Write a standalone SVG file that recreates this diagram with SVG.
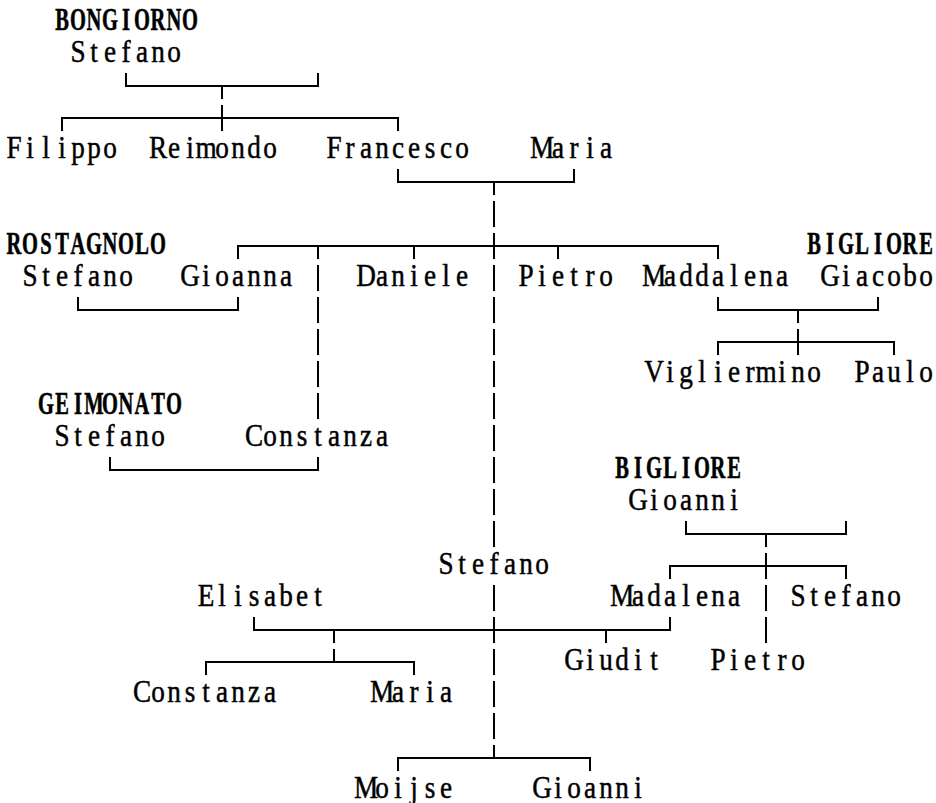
<svg xmlns="http://www.w3.org/2000/svg" width="936" height="803" viewBox="0 0 936 803">
<style>
  text { font-family: "Liberation Serif", "DejaVu Serif", serif; font-size: 32px; fill: #000; stroke: #000; stroke-width: 0.5; text-anchor: middle; }
  .sur { font-weight: bold; stroke-width: 0.6; }
  .c { fill: none; stroke: #000; stroke-width: 2; }
</style>
<rect width="936" height="803" fill="#fff"/>
<g id="connectors">
  <path class="c" d="M126,73V86H318V73 M222,86V99 M222,105V131 M62,131V118H398V131"/>
  <path class="c" d="M398,169V182H574V169 M494,182V195"/>
  <path class="c" d="M494,201V227 M494,233V259 M494,265V291 M494,297V323 M494,329V355 M494,361V387 M494,393V419 M494,425V451 M494,457V483 M494,489V515 M494,521V547"/>
  <path class="c" d="M238,259V246H718V259 M318,246V259 M414,246V259 M558,246V259"/>
  <path class="c" d="M318,265V291 M318,297V323 M318,329V355 M318,361V387 M318,393V419"/>
  <path class="c" d="M78,297V310H238V297"/>
  <path class="c" d="M110,457V470H318V457"/>
  <path class="c" d="M718,297V310H878V297 M798,310V323 M798,329V355 M718,355V342H894V355"/>
  <path class="c" d="M686,521V534H846V521 M766,534V547 M766,553V579 M670,579V566H846V579 M766,585V611 M766,617V643"/>
  <path class="c" d="M494,585V611 M494,617V643 M494,649V675 M494,681V707 M494,713V739 M494,745V758"/>
  <path class="c" d="M254,617V630H670V617 M334,630V643 M606,630V643"/>
  <path class="c" d="M334,649V662 M206,675V662H414V675"/>
  <path class="c" d="M398,771V758H590V771"/>
</g>
<g id="n-bongiorno-stefano"><text class="sur" transform="translate(54,30) scale(0.64,1)" x="12.5 37.5 62.5 87.5 112.5 137.5 162.5 187.5 212.5">BONGIORNO</text><text transform="translate(70,62) scale(0.85,1)" x="9.41 28.24 47.06 65.88 84.71 103.53 122.35">Stefano</text></g>
<g id="n-filippo"><text transform="translate(6,158) scale(0.85,1)" x="9.41 28.24 47.06 65.88 84.71 103.53 122.35">Filippo</text></g>
<g id="n-reimondo"><text transform="translate(150,158) scale(0.85,1)" x="9.41 28.24 47.06 65.88 84.71 103.53 122.35 141.18">Reimondo</text></g>
<g id="n-francesco"><text transform="translate(326,158) scale(0.85,1)" x="9.41 28.24 47.06 65.88 84.71 103.53 122.35 141.18 160">Francesco</text></g>
<g id="n-maria1"><text transform="translate(534,158) scale(0.85,1)" x="9.41 28.24 47.06 65.88 84.71">Maria</text></g>
<g id="n-rostagnolo-stefano"><text class="sur" transform="translate(6,254) scale(0.64,1)" x="12.5 37.5 62.5 87.5 112.5 137.5 162.5 187.5 212.5 237.5">ROSTAGNOLO</text><text transform="translate(22,286) scale(0.85,1)" x="9.41 28.24 47.06 65.88 84.71 103.53 122.35">Stefano</text></g>
<g id="n-gioanna"><text transform="translate(182,286) scale(0.85,1)" x="9.41 28.24 47.06 65.88 84.71 103.53 122.35">Gioanna</text></g>
<g id="n-daniele"><text transform="translate(358,286) scale(0.85,1)" x="9.41 28.24 47.06 65.88 84.71 103.53 122.35">Daniele</text></g>
<g id="n-pietro1"><text transform="translate(518,286) scale(0.85,1)" x="9.41 28.24 47.06 65.88 84.71 103.53">Pietro</text></g>
<g id="n-maddalena"><text transform="translate(646,286) scale(0.85,1)" x="9.41 28.24 47.06 65.88 84.71 103.53 122.35 141.18 160">Maddalena</text></g>
<g id="n-bigliore-giacobo"><text class="sur" transform="translate(806,254) scale(0.64,1)" x="12.5 37.5 62.5 87.5 112.5 137.5 162.5 187.5">BIGLIORE</text><text transform="translate(822,286) scale(0.85,1)" x="9.41 28.24 47.06 65.88 84.71 103.53 122.35">Giacobo</text></g>
<g id="n-vigliermino"><text transform="translate(646,382) scale(0.85,1)" x="9.41 28.24 47.06 65.88 84.71 103.53 122.35 141.18 160 178.82 197.65">Vigliermino</text></g>
<g id="n-paulo"><text transform="translate(854,382) scale(0.85,1)" x="9.41 28.24 47.06 65.88 84.71">Paulo</text></g>
<g id="n-geimonato-stefano"><text class="sur" transform="translate(38,414) scale(0.64,1)" x="12.5 37.5 62.5 87.5 112.5 137.5 162.5 187.5 212.5">GEIMONATO</text><text transform="translate(54,446) scale(0.85,1)" x="9.41 28.24 47.06 65.88 84.71 103.53 122.35">Stefano</text></g>
<g id="n-constanza1"><text transform="translate(246,446) scale(0.85,1)" x="9.41 28.24 47.06 65.88 84.71 103.53 122.35 141.18 160">Constanza</text></g>
<g id="n-bigliore-gioanni"><text class="sur" transform="translate(614,478) scale(0.64,1)" x="12.5 37.5 62.5 87.5 112.5 137.5 162.5 187.5">BIGLIORE</text><text transform="translate(630,510) scale(0.85,1)" x="9.41 28.24 47.06 65.88 84.71 103.53 122.35">Gioanni</text></g>
<g id="n-stefano"><text transform="translate(438,574) scale(0.85,1)" x="9.41 28.24 47.06 65.88 84.71 103.53 122.35">Stefano</text></g>
<g id="n-elisabet"><text transform="translate(198,606) scale(0.85,1)" x="9.41 28.24 47.06 65.88 84.71 103.53 122.35 141.18">Elisabet</text></g>
<g id="n-madalena"><text transform="translate(614,606) scale(0.85,1)" x="9.41 28.24 47.06 65.88 84.71 103.53 122.35 141.18">Madalena</text></g>
<g id="n-stefano2"><text transform="translate(790,606) scale(0.85,1)" x="9.41 28.24 47.06 65.88 84.71 103.53 122.35">Stefano</text></g>
<g id="n-giudit"><text transform="translate(566,670) scale(0.85,1)" x="9.41 28.24 47.06 65.88 84.71 103.53">Giudit</text></g>
<g id="n-pietro2"><text transform="translate(710,670) scale(0.85,1)" x="9.41 28.24 47.06 65.88 84.71 103.53">Pietro</text></g>
<g id="n-constanza2"><text transform="translate(134,702) scale(0.85,1)" x="9.41 28.24 47.06 65.88 84.71 103.53 122.35 141.18 160">Constanza</text></g>
<g id="n-maria2"><text transform="translate(374,702) scale(0.85,1)" x="9.41 28.24 47.06 65.88 84.71">Maria</text></g>
<g id="n-moijse"><text transform="translate(358,798) scale(0.85,1)" x="9.41 28.24 47.06 65.88 84.71 103.53">Moijse</text></g>
<g id="n-gioanni"><text transform="translate(534,798) scale(0.85,1)" x="9.41 28.24 47.06 65.88 84.71 103.53 122.35">Gioanni</text></g>
</svg>
